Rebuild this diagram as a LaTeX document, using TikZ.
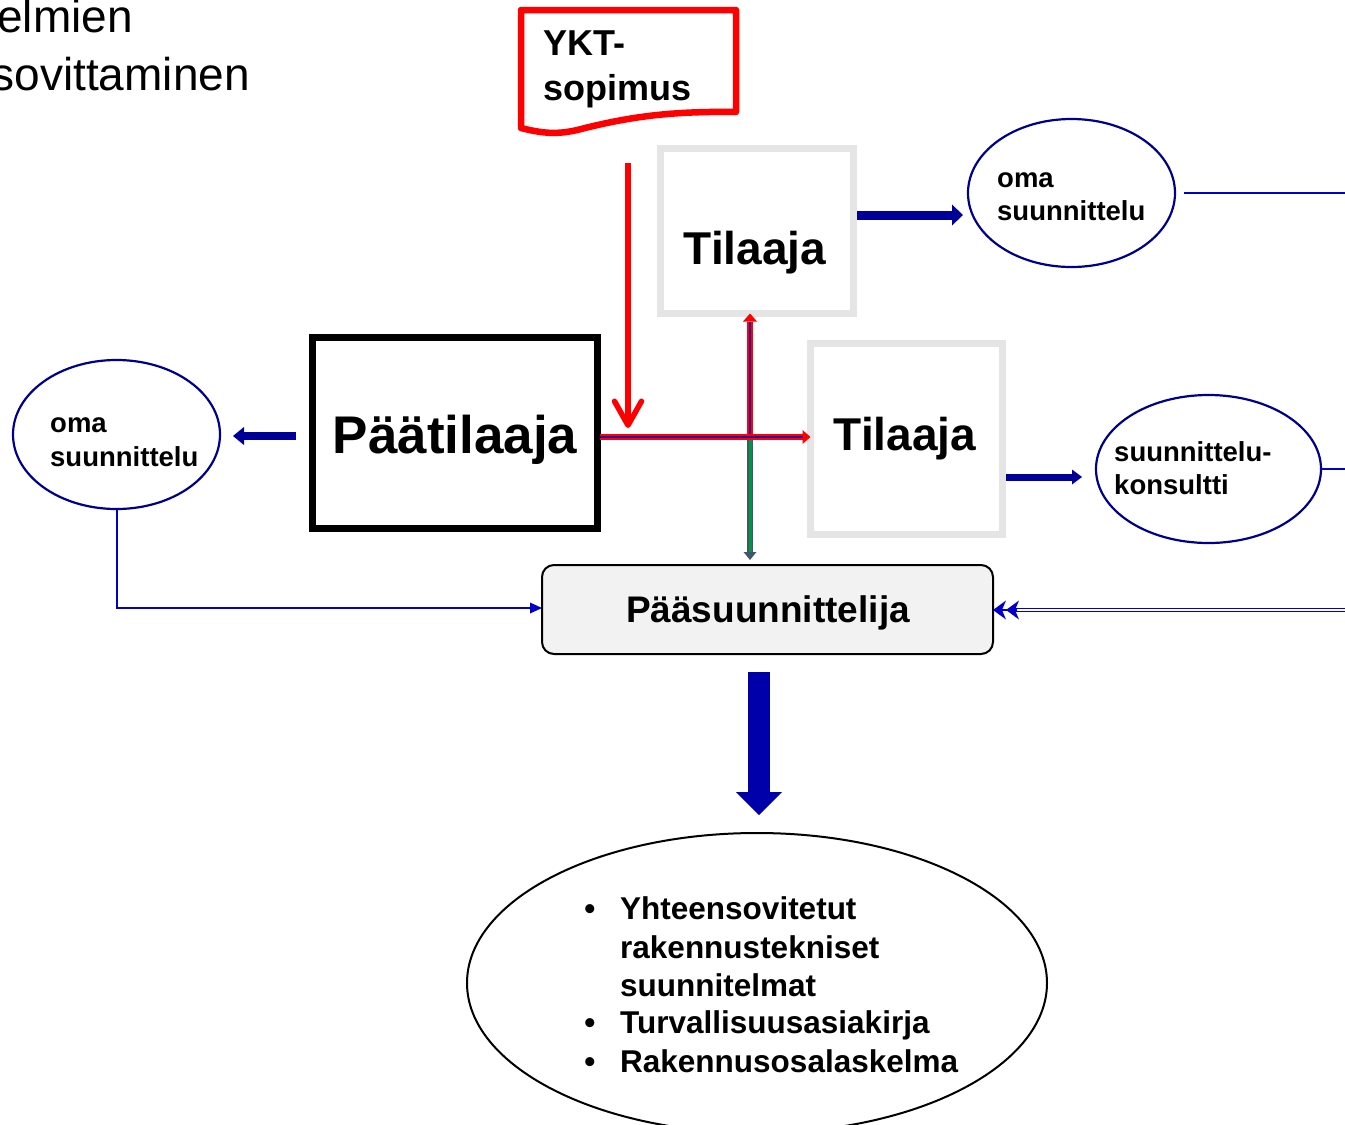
\documentclass[tikz,border=0pt]{standalone}
\usepackage{fontspec}
\setmainfont{Liberation Sans}
\usetikzlibrary{arrows.meta,shapes.geometric}
\definecolor{dblue}{RGB}{0,0,153}
\definecolor{ovalblue}{RGB}{0,0,140}
\definecolor{thinblue}{RGB}{0,0,200}
\definecolor{blockblue}{RGB}{0,0,170}
\definecolor{boxgray}{RGB}{229,229,229}
\definecolor{ppfill}{RGB}{242,242,242}
\definecolor{slate}{RGB}{68,84,106}
\definecolor{dgreen}{RGB}{0,150,70}
\definecolor{redcore}{RGB}{40,0,170}
\begin{document}
\begin{tikzpicture}[x=1pt,y=-1pt,
  graybox/.style={draw=boxgray, line width=7pt, fill=white, inner sep=0pt, outer sep=0pt},
  blackbox/.style={draw=black, line width=7pt, fill=white, inner sep=0pt, outer sep=0pt},
  ppbox/.style={draw=black, line width=2pt, fill=ppfill, rounded corners=12pt, inner sep=0pt, outer sep=0pt},
  oval/.style={ellipse, draw=ovalblue, line width=2.2pt, fill=white, inner sep=0pt, outer sep=0pt},
  lbl/.style={inner sep=0pt, anchor=base west, font=\bfseries\fontsize{27.5}{33}\selectfont},
  ykttxt/.style={inner sep=0pt, anchor=base west, font=\bfseries\fontsize{36}{43}\selectfont},
  big/.style={inner sep=0pt, anchor=base, font=\bfseries\fontsize{46}{55}\selectfont},
  lst/.style={inner sep=0pt, anchor=base west, font=\bfseries\fontsize{31.5}{38}\selectfont},
  bul/.style={inner sep=0pt, anchor=base, font=\bfseries\fontsize{31.5}{38}\selectfont},
  head/.style={inner sep=0pt, anchor=base east, font=\fontsize{46}{55}\selectfont},
  thinline/.style={draw=thinblue, line width=2pt},
]
\useasboundingbox (0,0) rectangle (1345,1125);

% heading fragments
\node[head] (h1) at (133,32) {elmien};
\node[head] (h2) at (250,90) {sovittaminen};

% YKT document
\draw[draw=red, line width=6.5pt, fill=white, line join=round]
  (521,10) -- (736,10) -- (736,112)
  .. controls (670,111) and (630,117) .. (585,128)
  .. controls (560,135) and (545,134) .. (521,128) -- cycle;
\node[ykttxt] (ykt1) at (543,55) {YKT-};
\node[ykttxt] (ykt2) at (543,100) {sopimus};

% boxes
\node[graybox, minimum width=193pt, minimum height=165pt] (til1) at (757,231) {};
\node[graybox, minimum width=192pt, minimum height=191pt] (til2) at (906.5,439) {};
\node[blackbox, minimum width=285pt, minimum height=191pt] (pt) at (455,433) {};
\node[ppbox, minimum width=451pt, minimum height=89pt] (pp) at (767.5,609.5) {};

\node[big] (til1t) at (755,264) {Tilaaja};
\node[big] (til2t) at (905,450) {Tilaaja};
\node[big, font=\bfseries\fontsize{53}{63}\selectfont] (ptt) at (455,453) {Päätilaaja};
\node[inner sep=0pt, anchor=base, font=\bfseries\fontsize{37}{44}\selectfont] (ppt) at (768,622) {Pääsuunnittelija};

% ellipses
\node[oval, minimum width=207pt, minimum height=149pt] (e1) at (116.5,434.5) {};
\node[oval, minimum width=207pt, minimum height=148pt] (e2) at (1071.5,193) {};
\node[oval, minimum width=225pt, minimum height=148pt] (e3) at (1208.5,469) {};
\node[ellipse, draw=black, line width=2pt, fill=white, inner sep=0pt, outer sep=0pt,
      minimum width=580pt, minimum height=300pt] (bot) at (757,983) {};

\node[lbl] (e1a) at (50,432) {oma};
\node[lbl] (e1b) at (50,466) {suunnittelu};
\node[lbl] (e2a) at (997,187) {oma};
\node[lbl] (e2b) at (997,220) {suunnittelu};
\node[lbl] (e3a) at (1114,461) {suunnittelu-};
\node[lbl] (e3b) at (1114,494) {konsultti};

% list
\node[bul] (b1) at (590,919) {•};
\node[lst] (l1) at (620,919) {Yhteensovitetut};
\node[lst] (l2) at (620,958) {rakennustekniset};
\node[lst] (l3) at (620,996) {suunnitelmat};
\node[bul] (b2) at (590,1033) {•};
\node[lst] (l4) at (620,1033) {Turvallisuusasiakirja};
\node[bul] (b3) at (590,1072) {•};
\node[lst] (l5) at (620,1072) {Rakennusosalaskelma};

% red arrow from contract
\coordinate (ykttail) at (628,163);
\coordinate (ykthead) at (628,428);
\draw[red, line width=5.5pt, -{Straight Barb[length=24pt,width=27pt,round]}] (ykttail) -- (ykthead);

% junction lines
\coordinate (jn) at (750,437);
\draw[slate, line width=6.5pt, -{Triangle[length=8pt,width=13pt,line width=0pt]}, shorten >=5pt] (jn) -- (jn |- pp.north);
\draw[dgreen, line width=3pt, shorten >=13pt] (jn) -- (jn |- pp.north);
\draw[red, line width=6.5pt, -{Triangle[length=8pt,width=14pt,line width=0pt]}] (jn) -- (jn |- til1.south);
\draw[redcore, line width=2.2pt, shorten >=8pt] (jn) -- (jn |- til1.south);
\draw[red, line width=6.5pt, -{Triangle[length=8pt,width=14pt,line width=0pt]}, shorten <=2.5pt] (pt.east |- jn) -- (til2.west |- jn);
\draw[redcore, line width=2.2pt, shorten <=2.5pt, shorten >=8pt] (pt.east |- jn) -- (til2.west |- jn);

% thick blue arrows
\draw[dblue, line width=9pt, -{Triangle[length=11pt,width=21pt,line width=0pt]}, shorten <=3.5pt, shorten >=5pt]
  (til1.east |- 0,215) -- (e2.west |- 0,215);
\draw[dblue, line width=7pt, -{Triangle[length=10pt,width=15pt,line width=0pt]}, shorten <=3.5pt, shorten >=14pt]
  (til2.east |- 0,477) -- (e3.west |- 0,477);
\draw[dblue, line width=8pt, -{Triangle[length=11pt,width=18pt,line width=0pt]}, shorten <=16.5pt, shorten >=13pt]
  (pt.west |- 0,436) -- (e1.east |- 0,436);

% thin blue lines
\draw[thinline, -{Triangle[length=12pt,width=11pt,line width=0pt]}] (e1.south) |- (pp.west |- 0,608);
\coordinate (r1) at (1350,193);
\coordinate (r2) at (1350,469);
\coordinate (r3) at (1350,610);
\coordinate (ppr) at (pp.east |- 0,610);
\draw[thinline] ([xshift=9pt]e2.east) -- (r1);
\draw[thinline] (e3.east) -- (r2);
\draw[draw=thinblue, line width=1.6pt, double=white, double distance=1.2pt, shorten >=16pt] (r3) -- (ppr);
\draw[thinline, -{Stealth[length=13pt,width=19pt,inset=4pt,line width=0pt] Stealth[length=13pt,width=19pt,inset=4pt,line width=0pt]}] ([xshift=24pt]ppr) -- (ppr);

% block arrow
\draw[blockblue, line width=22pt, -{Triangle[length=23pt,width=46pt,line width=0pt]}, shorten <=18pt, shorten >=18pt]
  (pp.south -| 759,0) -- (bot.north -| 759,0);
\end{tikzpicture}
\end{document}
